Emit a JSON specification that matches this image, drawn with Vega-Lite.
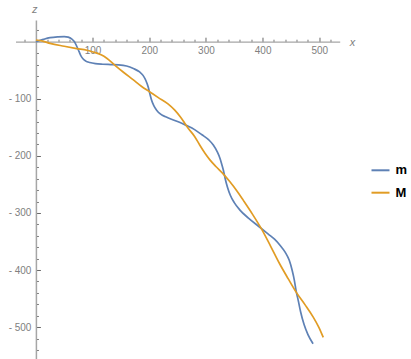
{
  "$schema": "https://vega.github.io/schema/vega-lite/v6.json",
  "width": 324.2,
  "height": 339.1,
  "autosize": {"type": "none"},
  "padding": {"left": 15.5, "top": 20, "right": 71.3, "bottom": 0},
  "background": "white",
  "config": {
    "view": {"stroke": null},
    "axis": {"grid": false, "labelFont": "Liberation Sans", "titleFont": "Liberation Sans"},
    "legend": {"labelFont": "Liberation Sans"}
  },
  "data": {
    "values": [
      {"s":"m","x":0,"z":0},{"s":"m","x":13,"z":4},{"s":"m","x":25,"z":7},{"s":"m","x":39,"z":8.5},{"s":"m","x":50,"z":9},{"s":"m","x":57,"z":8},{"s":"m","x":63,"z":5},{"s":"m","x":68,"z":0},{"s":"m","x":72,"z":-8},{"s":"m","x":76,"z":-17},{"s":"m","x":79,"z":-24},{"s":"m","x":83,"z":-30},{"s":"m","x":88,"z":-34},{"s":"m","x":95,"z":-36.5},{"s":"m","x":105,"z":-38.5},{"s":"m","x":118,"z":-39.5},{"s":"m","x":132,"z":-40},{"s":"m","x":146,"z":-40.5},{"s":"m","x":160,"z":-42.5},{"s":"m","x":172,"z":-47},{"s":"m","x":183,"z":-53},{"s":"m","x":189,"z":-59},{"s":"m","x":194,"z":-68},{"s":"m","x":198,"z":-79},{"s":"m","x":201,"z":-91},{"s":"m","x":204,"z":-102},{"s":"m","x":208,"z":-112},{"s":"m","x":213,"z":-120},{"s":"m","x":220,"z":-127},{"s":"m","x":230,"z":-132},{"s":"m","x":245,"z":-138},{"s":"m","x":266,"z":-147},{"s":"m","x":280,"z":-154},{"s":"m","x":293,"z":-163},{"s":"m","x":305,"z":-172},{"s":"m","x":313,"z":-181},{"s":"m","x":320,"z":-193},{"s":"m","x":325,"z":-205},{"s":"m","x":328,"z":-215},{"s":"m","x":331,"z":-226},{"s":"m","x":334,"z":-240},{"s":"m","x":338,"z":-255},{"s":"m","x":343,"z":-269},{"s":"m","x":350,"z":-282},{"s":"m","x":360,"z":-295},{"s":"m","x":375,"z":-309},{"s":"m","x":395,"z":-325},{"s":"m","x":410,"z":-337},{"s":"m","x":421,"z":-346},{"s":"m","x":431,"z":-357},{"s":"m","x":440,"z":-369},{"s":"m","x":447,"z":-383},{"s":"m","x":452,"z":-400},{"s":"m","x":456,"z":-418},{"s":"m","x":459,"z":-436},{"s":"m","x":463,"z":-454},{"s":"m","x":467,"z":-473},{"s":"m","x":473,"z":-495},{"s":"m","x":480,"z":-513},{"s":"m","x":489,"z":-529},
      {"s":"M","x":0,"z":3},{"s":"M","x":12,"z":1},{"s":"M","x":25,"z":-3},{"s":"M","x":50,"z":-8},{"s":"M","x":72,"z":-12},{"s":"M","x":90,"z":-15},{"s":"M","x":101,"z":-18},{"s":"M","x":115,"z":-23},{"s":"M","x":125,"z":-29},{"s":"M","x":139,"z":-41},{"s":"M","x":155,"z":-54},{"s":"M","x":172,"z":-67},{"s":"M","x":186,"z":-78},{"s":"M","x":201,"z":-88},{"s":"M","x":216,"z":-98},{"s":"M","x":233,"z":-109},{"s":"M","x":245,"z":-120},{"s":"M","x":255,"z":-132},{"s":"M","x":262,"z":-142},{"s":"M","x":269,"z":-152},{"s":"M","x":280,"z":-166},{"s":"M","x":289,"z":-181},{"s":"M","x":298,"z":-195},{"s":"M","x":307,"z":-207},{"s":"M","x":318,"z":-219},{"s":"M","x":330,"z":-231},{"s":"M","x":342,"z":-245},{"s":"M","x":355,"z":-262},{"s":"M","x":366,"z":-278},{"s":"M","x":382,"z":-302},{"s":"M","x":398,"z":-328},{"s":"M","x":414,"z":-358},{"s":"M","x":430,"z":-389},{"s":"M","x":445,"z":-415},{"s":"M","x":460,"z":-440},{"s":"M","x":475,"z":-461},{"s":"M","x":489,"z":-482},{"s":"M","x":499,"z":-500},{"s":"M","x":507,"z":-518}
    ]
  },
  "resolve": {"axis": {"x": "independent", "y": "independent"}},
  "layer": [
    {
      "mark": {"type": "point", "opacity": 0},
      "encoding": {
        "x": {"field": "x", "type": "quantitative", "scale": {"domain": [-36, 536], "nice": false, "zero": false},
          "axis": {"orient": "bottom", "offset": -317.4, "values": [-20,20,40,60,80,120,140,160,180,220,240,260,280,320,340,360,380,420,440,460,480,520], "labels": false, "domain": false, "tickSize": -2.5, "tickColor": "#555555", "tickWidth": 0.8, "title": null}},
        "y": {"field": "z", "type": "quantitative", "scale": {"domain": [-556, 38], "nice": false, "zero": false},
          "axis": {"orient": "left", "offset": -20.4, "values": [20,-20,-40,-60,-80,-120,-140,-160,-180,-220,-240,-260,-280,-320,-340,-360,-380,-420,-440,-460,-480,-520,-540], "labels": false, "domain": false, "tickSize": -2.5, "tickColor": "#555555", "tickWidth": 0.8, "title": null}}
      }
    },
    {
      "mark": {"type": "point", "opacity": 0},
      "encoding": {
        "x": {"field": "x", "type": "quantitative", "scale": {"domain": [-36, 536], "nice": false, "zero": false},
          "axis": {"orient": "bottom", "offset": -317.4, "values": [100,200,300,400,500], "labels": false, "domain": false, "tickSize": -4.5, "tickColor": "#555555", "tickWidth": 0.9, "title": null}},
        "y": {"field": "z", "type": "quantitative", "scale": {"domain": [-556, 38], "nice": false, "zero": false},
          "axis": {"orient": "left", "offset": -20.4, "values": [-100,-200,-300,-400,-500], "labels": false, "domain": false, "tickSize": -4.5, "tickColor": "#555555", "tickWidth": 0.9, "title": null}}
      }
    },
    {
      "mark": {"type": "line", "interpolate": "monotone", "strokeWidth": 1.7},
      "encoding": {
        "x": {"field": "x", "type": "quantitative", "scale": {"domain": [-36, 536], "nice": false, "zero": false},
          "axis": {"orient": "bottom", "offset": -317.4, "values": [100,200,300,400,500], "ticks": false, "tickSize": 0, "labelPadding": 4, "labelFontSize": 10, "labelColor": "#808080", "domainColor": "#a6a6a6", "domainWidth": 1.3,
            "title": "x", "titleFontStyle": "italic", "titleFontWeight": "normal", "titleFontSize": 11, "titleColor": "#808080", "titleX": 336.5, "titleY": 1, "titleAlign": "center", "titleBaseline": "middle", "titleAngle": 0}},
        "y": {"field": "z", "type": "quantitative", "scale": {"domain": [-556, 38], "nice": false, "zero": false},
          "axis": {"orient": "left", "offset": -20.4, "values": [-100,-200,-300,-400,-500], "labelExpr": "'- ' + abs(datum.value)", "ticks": false, "tickSize": 0, "labelPadding": 5, "labelFontSize": 10, "labelColor": "#808080", "domainColor": "#a6a6a6", "domainWidth": 1.5,
            "title": "z", "titleFontStyle": "italic", "titleFontWeight": "normal", "titleFontSize": 11, "titleColor": "#808080", "titleX": -1.6, "titleY": -10, "titleAlign": "center", "titleBaseline": "middle", "titleAngle": 0}},
        "color": {"field": "s", "type": "nominal", "scale": {"domain": ["m", "M"], "range": ["#5E81B5", "#E19C24"]},
          "legend": {"title": null, "orient": "none", "legendX": 355, "legendY": 140.3, "symbolType": "stroke", "symbolSize": 324, "symbolStrokeWidth": 2, "labelOffset": 5, "labelFontSize": 13, "labelFontWeight": "bold", "labelColor": "#000000", "rowPadding": 5.4, "padding": 0}}
      }
    }
  ]
}
